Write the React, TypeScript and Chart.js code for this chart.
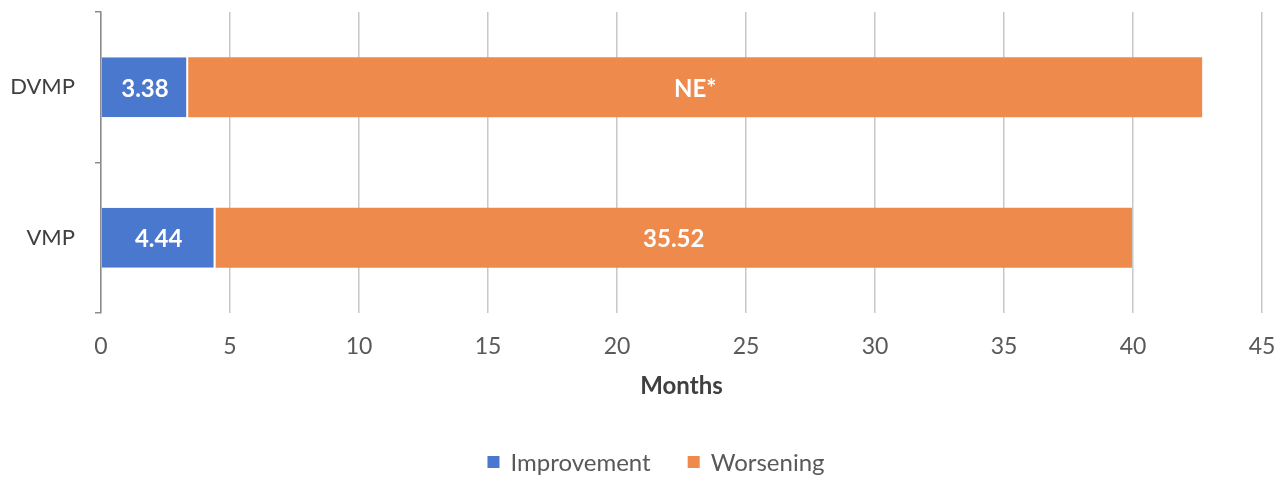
import React, { useEffect, useRef } from "react";
import { Chart, registerables } from "chart.js";

Chart.register(...registerables);

const categories = ["DVMP", "VMP"];
const improvementValues = [3.38, 4.44];
const worseningValues = [39.3, 35.52];
const improvementLabels = ["3.38", "4.44"];
const worseningLabels = ["NE*", "35.52"];
const xTicks = [0, 5, 10, 15, 20, 25, 30, 35, 40, 45];
const seriesNames = ["Improvement", "Worsening"];
const seriesColors = ["#4A78CF", "#EE8A4B"];

const FONT = "Lato, 'Open Sans', sans-serif";

const barLabelPlugin = {
  id: "barLabels",
  afterDatasetsDraw(chart: any) {
    const ctx = chart.ctx;
    const labelSets = [improvementLabels, worseningLabels];
    ctx.save();
    ctx.fillStyle = "#ffffff";
    ctx.font = `bold 24px ${FONT}`;
    ctx.textAlign = "center";
    ctx.textBaseline = "middle";
    chart.data.datasets.forEach((_: any, di: number) => {
      const meta = chart.getDatasetMeta(di);
      meta.data.forEach((el: any, i: number) => {
        const cx = (el.x + el.base) / 2;
        ctx.fillText(labelSets[di][i], cx, el.y + 2);
      });
    });
    ctx.restore();
  },
};

const legendPlugin = {
  id: "customLegend",
  afterDraw(chart: any) {
    const ctx = chart.ctx;
    ctx.save();
    ctx.font = `24px ${FONT}`;
    ctx.textBaseline = "middle";
    const box = 12;
    const gapBoxText = 11;
    const gapItems = 37;
    const items = chart.data.datasets.map((d: any) => ({
      text: d.label,
      color: d.backgroundColor,
      w: box + gapBoxText + ctx.measureText(d.label).width,
    }));
    const total = items.reduce((s: number, it: any) => s + it.w, 0) + gapItems * (items.length - 1);
    let x = chart.width / 2 + 12 - total / 2;
    const y = 462;
    items.forEach((it: any) => {
      ctx.fillStyle = it.color;
      ctx.fillRect(x, y - box / 2, box, box);
      ctx.fillStyle = "#595959";
      ctx.textAlign = "left";
      ctx.fillText(it.text, x + box + gapBoxText, y + 1);
      x += it.w + gapItems;
    });
    ctx.restore();
  },
};

export default function App() {
  const ref = useRef<HTMLCanvasElement>(null);
  useEffect(() => {
    if (!ref.current) return;
    const chart = new Chart(ref.current, {
      type: "bar",
      data: {
        labels: categories,
        datasets: [
          {
            label: seriesNames[0],
            data: improvementValues,
            backgroundColor: seriesColors[0],
            borderColor: "#ffffff",
            borderWidth: { left: 0, top: 0, bottom: 0, right: 2 },
            borderSkipped: false,
            categoryPercentage: 1,
            barPercentage: 0.4,
          },
          {
            label: seriesNames[1],
            data: worseningValues,
            backgroundColor: seriesColors[1],
            borderWidth: 0,
            categoryPercentage: 1,
            barPercentage: 0.4,
          },
        ],
      },
      plugins: [barLabelPlugin, legendPlugin],
      options: {
        indexAxis: "y",
        animation: false,
        responsive: true,
        maintainAspectRatio: false,
        layout: { padding: { top: 12, right: 26, left: 0, bottom: 64 } },
        plugins: {
          tooltip: { enabled: false },
          legend: { display: false },
        },
        scales: {
          x: {
            stacked: true,
            min: 0,
            max: 45,
            afterBuildTicks: (scale: any) => {
              scale.ticks = xTicks.map((v) => ({ value: v }));
            },
            afterFit: (scale: any) => {
              scale.height = 100;
              scale.paddingLeft = 0;
              scale.paddingRight = 0;
            },
            grid: {
              color: "#c8c8c8",
              lineWidth: 1.5,
              drawTicks: false,
            },
            border: { display: false },
            ticks: {
              padding: 20,
              maxRotation: 0,
              color: "#595959",
              font: { family: FONT, size: 23 },
            },
            title: {
              display: true,
              text: "Months",
              color: "#404040",
              font: { family: FONT, size: 24, weight: "bold" },
              padding: { top: 4, bottom: 12 },
            },
          },
          y: {
            stacked: true,
            afterFit: (scale: any) => {
              scale.width = 101;
              scale.paddingTop = 0;
              scale.paddingBottom = 0;
            },
            grid: {
              drawOnChartArea: false,
              tickLength: 6,
              color: "#8c8c8c",
              lineWidth: 1.5,
            },
            border: { display: true, color: "#8c8c8c", width: 1.5 },
            ticks: {
              padding: 20,
              color: "#404040",
              font: { family: FONT, size: 22 },
            },
          },
        },
      },
    });
    return () => chart.destroy();
  }, []);
  return (
    <div style={{ position: "fixed", left: 0, top: 0, width: 1288, height: 477, background: "#fff" }}>
      <canvas ref={ref} />
    </div>
  );
}
